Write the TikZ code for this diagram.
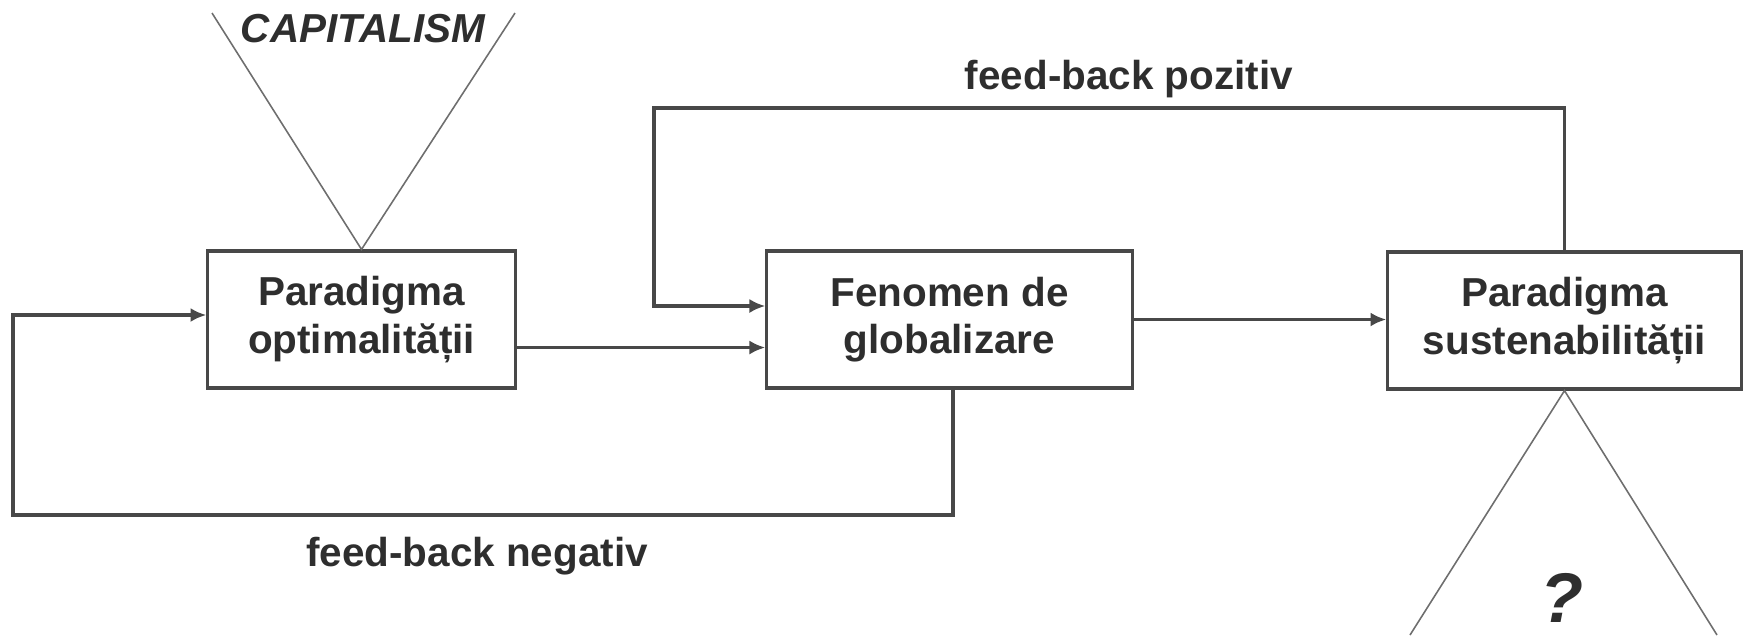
\documentclass[tikz,border=0pt]{standalone}
\usepackage{fontspec}
\setmainfont{Liberation Sans}
\usetikzlibrary{arrows.meta}
\definecolor{linegray}{HTML}{484848}
\definecolor{thingray}{HTML}{6E6E6E}
\definecolor{textgray}{HTML}{2E2E2E}
\begin{document}
\begin{tikzpicture}[x=0.01cm, y=-0.01cm,
    box/.style={draw=linegray, line width=0.9pt, text=textgray, align=center,
      minimum height=1.37cm, inner sep=0pt,
      font=\bfseries\fontsize{11.5}{13.5}\selectfont},
    conn/.style={draw=linegray, line width=0.9pt},
    arr/.style={conn, -{Latex[length=4.5pt,width=4pt]}},
    cone/.style={draw=thingray, line width=0.45pt},
    lbl/.style={text=textgray, inner sep=0pt,
      font=\bfseries\fontsize{11.5}{13.5}\selectfont}]
  \useasboundingbox (0,0) rectangle (1748,635);

  % Draw the three boxes
  \node[box, minimum width=3.07cm] (opt) at (361.5,319.5) {Paradigma\\optimalității};
  \node[box, minimum width=3.65cm] (glob) at (949.5,319.5) {Fenomen de\\globalizare};
  \node[box, minimum width=3.53cm] (sus) at (1564.5,320.5) {Paradigma\\sustenabilității};

  % Draw the cones above and below
  \coordinate (capL) at (212,13);
  \coordinate (capR) at (515,13);
  \coordinate (qL) at (1410,635);
  \coordinate (qR) at (1717,635);
  \draw[cone] (capL) -- (opt.north) -- (capR);
  \draw[cone] (qL) -- (sus.south) -- (qR);
  \node[lbl, font=\bfseries\itshape\fontsize{11.5}{13.5}\selectfont] (capital) at (363,29) {CAPITALISM};
  \node[lbl, font=\bfseries\itshape\fontsize{20}{24}\selectfont] (quest) at (1562,598) {?};

  % Draw the forward arrows
  \draw[arr] ([yshift=-0.28cm]opt.east) -- ([yshift=-0.28cm]glob.west);
  \draw[arr] (glob.east) -- (glob.east -| sus.west);

  % Draw the feedback loops
  \coordinate (posleft) at (654,108);
  \coordinate (negleft) at (13,515);
  \draw[arr] (sus.north) |- (posleft) |- ([yshift=0.135cm]glob.west);
  \draw[arr] ([xshift=0.035cm]glob.south) |- (negleft) |- ([yshift=0.045cm]opt.west);
  \node[lbl, anchor=base] (poz) at (1129,89) {feed-back pozitiv};
  \node[lbl, anchor=base] (neg) at (477,566) {feed-back negativ};
\end{tikzpicture}
\end{document}
